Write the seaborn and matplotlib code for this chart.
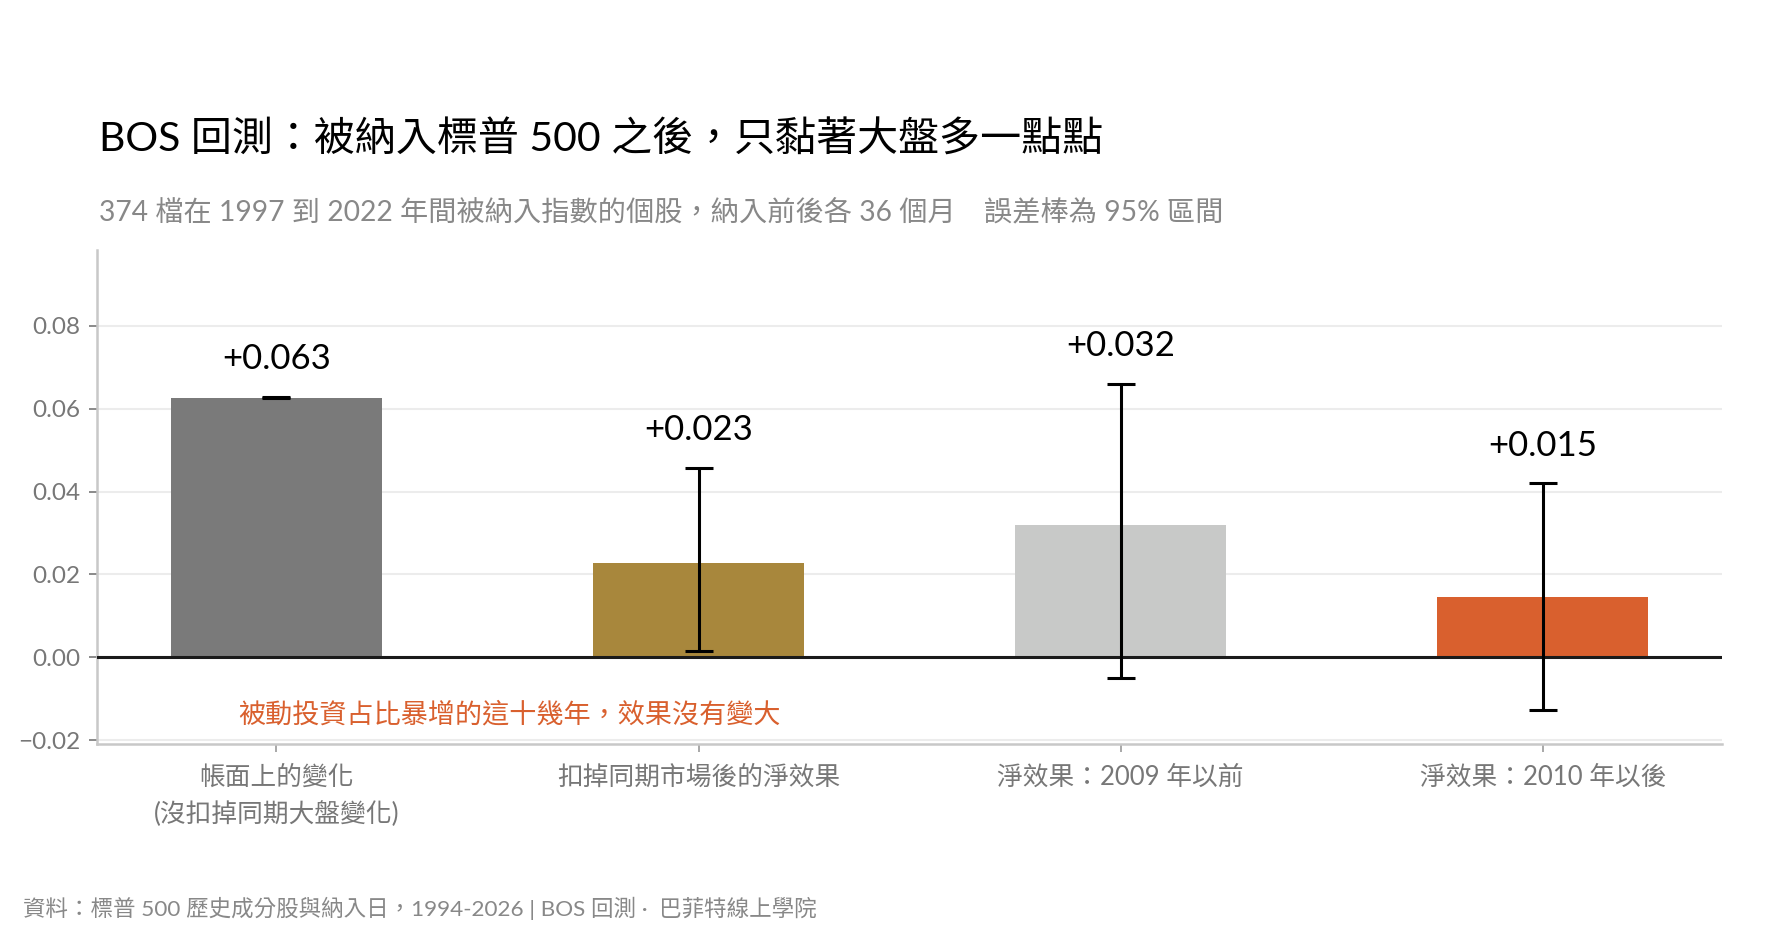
import matplotlib
matplotlib.use('Agg')
import matplotlib.pyplot as plt
import pandas as pd
import seaborn as sns

# values
categories = ['帳面上的變化\n(沒扣掉同期大盤變化)', '扣掉同期市場後的淨效果',
              '淨效果：2009 年以前', '淨效果：2010 年以後']
values = [0.0627, 0.0227, 0.0319, 0.0145]
ci_low = [0.0625, 0.0016, -0.0051, -0.0127]
ci_high = [0.0629, 0.0458, 0.0660, 0.0420]
value_labels = ['+0.063', '+0.023', '+0.032', '+0.015']
bar_colors = ['#7a7a7a', '#a8873c', '#c8c9c8', '#d9602e']
yticks = [-0.02, 0.00, 0.02, 0.04, 0.06, 0.08]

title = 'BOS 回測：被納入標普 500 之後，只黏著大盤多一點點'
subtitle = '374 檔在 1997 到 2022 年間被納入指數的個股，納入前後各 36 個月　誤差棒為 95% 區間'
note = '被動投資占比暴增的這十幾年，效果沒有變大'
footer = '資料：標普 500 歷史成分股與納入日，1994-2026 | BOS 回測 ·  巴菲特線上學院'

df = pd.DataFrame({'group': categories, 'value': values,
                   'lo': ci_low, 'hi': ci_high, 'label': value_labels})

sns.set_theme(style='white')
plt.rcParams['font.family'] = ['Lato', 'Noto Sans CJK TC', 'DejaVu Sans']
plt.rcParams['axes.unicode_minus'] = True

fig = plt.figure(figsize=(17.68, 9.51), dpi=100)
ax = fig.add_axes([0.0549, 0.2177, 0.919, 0.519])

sns.barplot(data=df, x='group', y='value', hue='group', palette=bar_colors,
            width=0.5, saturation=1, legend=False, linewidth=0, ax=ax)

# error bars (95% interval)
pos = range(len(df))
ax.errorbar(pos, df['value'],
            yerr=[df['value'] - df['lo'], df['hi'] - df['value']],
            fmt='none', ecolor='black', elinewidth=2.2, capsize=10, capthick=2.2,
            zorder=4)

for i, row in df.iterrows():
    ax.text(i, row['hi'] + 0.0091, row['label'], ha='center', va='center',
            fontsize=25, color='black', zorder=5)

ax.axhline(0, color='#1a1a1a', lw=2.2, zorder=3)

ax.text(0.551, -0.0138, note, ha='center', va='center', fontsize=19.5,
        color='#d9602e')

ax.set_xlim(-0.425, 3.424)
ax.set_ylim(-0.0209, 0.0982)
ax.set_yticks(yticks)
ax.set_yticklabels([f'{t:.2f}'.replace('-', '\u2212') for t in yticks])
ax.yaxis.grid(True, color='#ececec', lw=1.5)
ax.set_axisbelow(True)

ax.set_xlabel('')
ax.set_ylabel('')
for s in ['top', 'right']:
    ax.spines[s].set_visible(False)
for s in ['left', 'bottom']:
    ax.spines[s].set_color('#c8c8c8')
    ax.spines[s].set_linewidth(1.8)

ax.tick_params(axis='y', left=True, length=6, width=1.2, color='#777777',
               labelsize=17.5, labelcolor='#777777', pad=6)
ax.tick_params(axis='x', bottom=True, length=6, width=1.2, color='#999999',
               labelsize=18.5, labelcolor='#777777', pad=9)
for lab in ax.get_xticklabels():
    lab.set_linespacing(1.55)
    lab.set_va('top')

fig.text(0.056, 0.853, title, fontsize=29.5, color='black', ha='left', va='center')
fig.text(0.056, 0.777, subtitle, fontsize=20.3, color='#888888', ha='left', va='center')
fig.text(0.013, 0.045, footer, fontsize=16.2, color='#888888', ha='left', va='center')

fig.savefig('out.png', dpi=100)
